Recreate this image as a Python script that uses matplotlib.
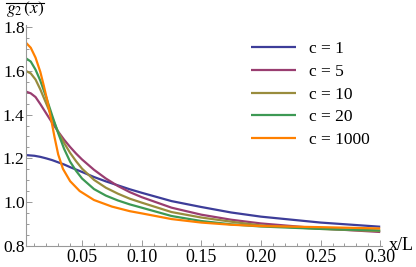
import matplotlib
matplotlib.use("Agg")
import matplotlib.pyplot as plt
from matplotlib.lines import Line2D
from matplotlib.ticker import MultipleLocator, FixedLocator

plt.rcParams['font.family'] = ['Liberation Serif', 'DejaVu Serif']
plt.rcParams['mathtext.fontset'] = 'stix'

labels = ["c = 1", "c = 5", "c = 10", "c = 20", "c = 1000"]
colors = ["#3d3d99", "#993d70", "#998c3d", "#3d9954", "#ff8000"]

x_c1 = [0.003, 0.01, 0.015, 0.02, 0.025, 0.03, 0.035, 0.04, 0.05, 0.06, 0.07, 0.08, 0.09, 0.1, 0.125, 0.15, 0.175, 0.2, 0.25, 0.3]
y_c1 = [1.215, 1.212, 1.207, 1.200, 1.192, 1.182, 1.172, 1.160, 1.138, 1.115, 1.095, 1.077, 1.059, 1.043, 1.005, 0.978, 0.953, 0.934, 0.907, 0.888]

x_c5 = [0.003, 0.007, 0.011, 0.015, 0.02, 0.025, 0.03, 0.035, 0.04, 0.045, 0.05, 0.06, 0.07, 0.08, 0.09, 0.1, 0.125, 0.15, 0.175, 0.2, 0.25, 0.3]
y_c5 = [1.505, 1.497, 1.480, 1.448, 1.405, 1.362, 1.322, 1.285, 1.252, 1.222, 1.195, 1.148, 1.108, 1.074, 1.046, 1.023, 0.975, 0.943, 0.920, 0.903, 0.880, 0.864]

x_c10 = [0.003, 0.007, 0.011, 0.015, 0.02, 0.025, 0.03, 0.035, 0.04, 0.045, 0.05, 0.06, 0.07, 0.08, 0.09, 0.1, 0.125, 0.15, 0.175, 0.2, 0.25, 0.3]
y_c10 = [1.599, 1.588, 1.560, 1.515, 1.450, 1.385, 1.320, 1.270, 1.225, 1.187, 1.153, 1.102, 1.066, 1.039, 1.016, 0.998, 0.955, 0.930, 0.911, 0.894, 0.878, 0.868]

x_c20 = [0.003, 0.007, 0.011, 0.015, 0.02, 0.025, 0.03, 0.035, 0.04, 0.045, 0.05, 0.06, 0.07, 0.08, 0.09, 0.1, 0.125, 0.15, 0.175, 0.2, 0.25, 0.3]
y_c20 = [1.657, 1.642, 1.605, 1.555, 1.478, 1.395, 1.315, 1.243, 1.185, 1.143, 1.108, 1.060, 1.030, 1.008, 0.990, 0.975, 0.937, 0.914, 0.899, 0.889, 0.878, 0.871]

x_c1000 = [0.003, 0.007, 0.011, 0.015, 0.018, 0.021, 0.024, 0.027, 0.03, 0.034, 0.04, 0.048, 0.06, 0.075, 0.09, 0.1, 0.125, 0.15, 0.175, 0.2, 0.25, 0.3]
y_c1000 = [1.728, 1.705, 1.660, 1.595, 1.530, 1.460, 1.380, 1.295, 1.218, 1.152, 1.096, 1.051, 1.010, 0.980, 0.959, 0.949, 0.923, 0.907, 0.897, 0.891, 0.886, 0.880]

xs = [x_c1, x_c5, x_c10, x_c20, x_c1000]
ys = [y_c1, y_c5, y_c10, y_c20, y_c1000]

x_ticks = [0.05, 0.10, 0.15, 0.20, 0.25, 0.30]
x_ticklabels = ["0.05", "0.10", "0.15", "0.20", "0.25", "0.30"]
y_ticks = [0.8, 1.0, 1.2, 1.4, 1.6, 1.8]
y_ticklabels = ["0.8", "1.0", "1.2", "1.4", "1.6", "1.8"]

W, H = 416, 267
fig = plt.figure(figsize=(W/100, H/100), dpi=100)
ax = fig.add_axes([26/W, 21/H, 356/W, 221/H])

for x, y, c, lab in zip(xs, ys, colors, labels):
    ax.plot(x, y, color=c, lw=1.6, label=lab, solid_capstyle='butt', solid_joinstyle='round')

ax.set_xlim(0.003, 0.3015)
ax.set_ylim(0.8, 1.809)
for s in ['top', 'right']:
    ax.spines[s].set_visible(False)
for s in ['left', 'bottom']:
    ax.spines[s].set_color('#999999')
    ax.spines[s].set_linewidth(0.8)

ax.xaxis.set_major_locator(FixedLocator(x_ticks))
ax.set_xticklabels(x_ticklabels)
ax.xaxis.set_minor_locator(MultipleLocator(0.01))
ax.yaxis.set_major_locator(FixedLocator(y_ticks))
ax.set_yticklabels(y_ticklabels)
ax.yaxis.set_minor_locator(MultipleLocator(0.05))
ax.tick_params(which='both', direction='in', color='#999999', width=0.7, labelsize=13, pad=2)
ax.tick_params(axis='y', pad=1, labelsize=12.5)
ax.tick_params(which='major', length=4.5)
ax.tick_params(which='minor', length=2.5)

# y-axis title: g2(x) with an overline bar above it
ttl = fig.text(6/W, 1 - 13/H, r'$g_2\,(x)$', ha='left', va='baseline', fontsize=12.5)
fig.canvas.draw()
bb = ttl.get_window_extent(renderer=fig.canvas.get_renderer())
fig.add_artist(Line2D([bb.x0 / W, bb.x1 / W], [1 - 2.5/H, 1 - 2.5/H],
                      transform=fig.transFigure, color='black', lw=0.8))

fig.text(389/W, 1 - 254/H, 'x/L', ha='left', va='bottom', fontsize=13)

leg = ax.legend(loc='upper left', bbox_to_anchor=(251/W, 1 - 41/H), bbox_transform=fig.transFigure,
                frameon=False, fontsize=12.5, handlelength=2.6, handletextpad=0.75, labelspacing=0.38,
                borderaxespad=0, borderpad=0)

fig.savefig('out.png', dpi=100)
